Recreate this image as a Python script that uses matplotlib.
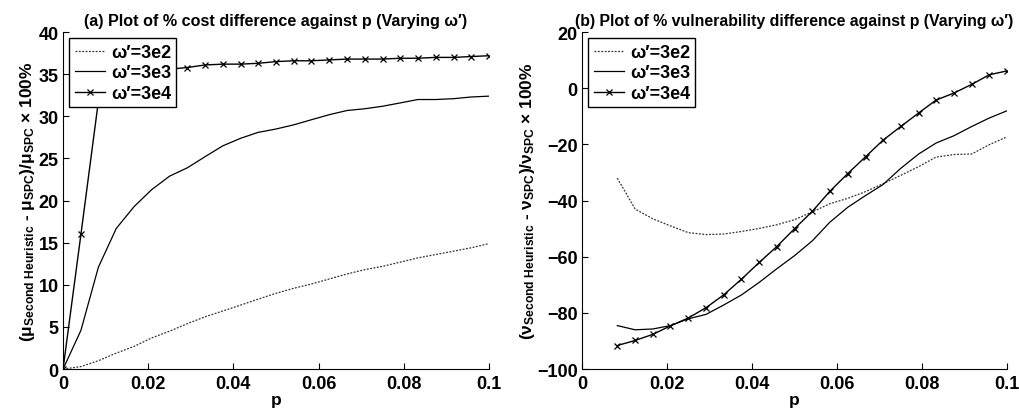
import numpy as np
import matplotlib.pyplot as plt

plt.rcParams['font.family'] = ['Liberation Sans', 'DejaVu Sans']
plt.rcParams['font.weight'] = 'bold'
plt.rcParams['mathtext.fontset'] = 'custom'
plt.rcParams['mathtext.rm'] = 'Liberation Sans:bold'
plt.rcParams['mathtext.it'] = 'Liberation Sans:bold'
plt.rcParams['mathtext.bf'] = 'Liberation Sans:bold'

# p values (shared x grid)
p = [0, 0.0042, 0.0083, 0.0125, 0.0167, 0.0208, 0.025, 0.0292, 0.0333, 0.0375,
     0.0417, 0.0458, 0.05, 0.0542, 0.0583, 0.0625, 0.0667, 0.0708, 0.075,
     0.0792, 0.0833, 0.0875, 0.0917, 0.0958, 0.1]

labels = ["\u03c9\u2032=3e2", "\u03c9\u2032=3e3", "\u03c9\u2032=3e4"]

# (a) % cost difference
cost_3e2 = [0, 0.3, 1.0, 1.9, 2.7, 3.7, 4.5, 5.4, 6.2, 6.9, 7.6, 8.3, 9.0, 9.6,
            10.1, 10.7, 11.3, 11.8, 12.2, 12.7, 13.2, 13.6, 14.0, 14.4, 14.9]
cost_3e3 = [0, 4.6, 12.1, 16.7, 19.3, 21.3, 22.9, 23.9, 25.2, 26.5, 27.4, 28.1,
            28.5, 29.0, 29.6, 30.2, 30.7, 30.9, 31.2, 31.6, 32.0, 32.0, 32.1,
            32.3, 32.4]
cost_3e4 = [0, 16.0, 31.8, 33.8, 34.8, 35.3, 35.6, 35.8, 36.1, 36.2, 36.2, 36.3,
            36.5, 36.6, 36.6, 36.7, 36.8, 36.8, 36.8, 36.9, 36.9, 37.0, 37.0,
            37.1, 37.2]

# (b) % vulnerability difference (starts at third p value)
vul_3e2 = [-32.0, -43.0, -46.5, -49.0, -51.4, -52.1, -51.9, -51.0, -49.9, -48.6,
           -46.8, -44.0, -41.1, -39.2, -36.8, -34.0, -31.0, -27.9, -24.5, -23.6,
           -23.4, -20.1, -17.3]
vul_3e3 = [-84.5, -86.0, -85.7, -84.5, -82.1, -80.5, -77.2, -73.6, -69.1, -64.3,
           -59.6, -54.3, -47.7, -42.4, -38.2, -34.3, -28.5, -23.4, -19.5, -16.9,
           -13.6, -10.6, -8.0]
vul_3e4 = [-91.6, -89.8, -87.6, -84.6, -81.8, -78.1, -73.6, -68.0, -62.0, -56.4,
           -50.0, -43.8, -36.7, -30.4, -24.4, -18.5, -13.6, -8.8, -4.2, -1.7,
           1.4, 4.8, 6.2]

fig = plt.figure(figsize=(10.2, 4.14), dpi=100)
ax1 = fig.add_axes([0.0618, 0.106, 0.4176, 0.814])
ax2 = fig.add_axes([0.5706, 0.106, 0.4167, 0.814])

styles = [dict(color='#333333', linestyle=(0, (1.5, 1.2)), linewidth=0.9),
          dict(color='black', linestyle='-', linewidth=0.9),
          dict(color='black', linestyle='-', linewidth=1.0, marker='x',
               markersize=4, markeredgewidth=0.9)]

for s, y, lab in zip(styles, [cost_3e2, cost_3e3, cost_3e4], labels):
    ax1.plot(p, y, label=lab, **s)
for s, y, lab in zip(styles, [vul_3e2, vul_3e3, vul_3e4], labels):
    ax2.plot(p[2:], y, label=lab, **s)

ax1.set_xlim(0, 0.1)
ax1.set_ylim(0, 40)
ax1.set_yticks(range(0, 41, 5))
ax2.set_xlim(0, 0.1)
ax2.set_ylim(-100, 20)
ax2.set_yticks(range(-100, 21, 20))

xt = [0, 0.02, 0.04, 0.06, 0.08, 0.1]
for ax in (ax1, ax2):
    ax.set_xticks(xt)
    ax.set_xticklabels(['0', '0.02', '0.04', '0.06', '0.08', '0.1'])
    ax.spines['top'].set_visible(False)
    ax.spines['right'].set_visible(False)
    ax.tick_params(direction='in', length=4, labelsize=13)
    ax.tick_params(axis='x', pad=4)
    ax.tick_params(axis='y', pad=3)
    ax.set_xlabel('p', fontsize=12.5, fontweight='bold', labelpad=0)
    leg = ax.legend(loc='upper left', fontsize=13, handlelength=1.7,
                    fancybox=False, framealpha=1, edgecolor='black',
                    borderaxespad=0.35, labelspacing=0.2, handletextpad=0.3,
                    borderpad=0.3)
    leg.get_frame().set_linewidth(1.0)
    for t in leg.get_texts():
        t.set_fontweight('bold')

ax1.set_ylabel(r'$(\mu_{\mathrm{Second\ Heuristic}}$ - $\mu_{\mathrm{SPC}})/\mu_{\mathrm{SPC}}$ $\times$ 100%',
               fontsize=12.5, fontweight='bold', labelpad=1)
ax2.set_ylabel(r'$(\nu_{\mathrm{Second\ Heuristic}}$ - $\nu_{\mathrm{SPC}})/\nu_{\mathrm{SPC}}$ $\times$ 100%',
               fontsize=12.5, fontweight='bold', labelpad=0)

ax1.set_title('(a) Plot of % cost difference against p (Varying \u03c9\u2032)',
              fontsize=11.6, fontweight='bold', pad=5)
ax2.set_title('(b) Plot of % vulnerability difference against p (Varying \u03c9\u2032)',
              fontsize=11.4, fontweight='bold', pad=5)

plt.savefig('out.png', dpi=100)
